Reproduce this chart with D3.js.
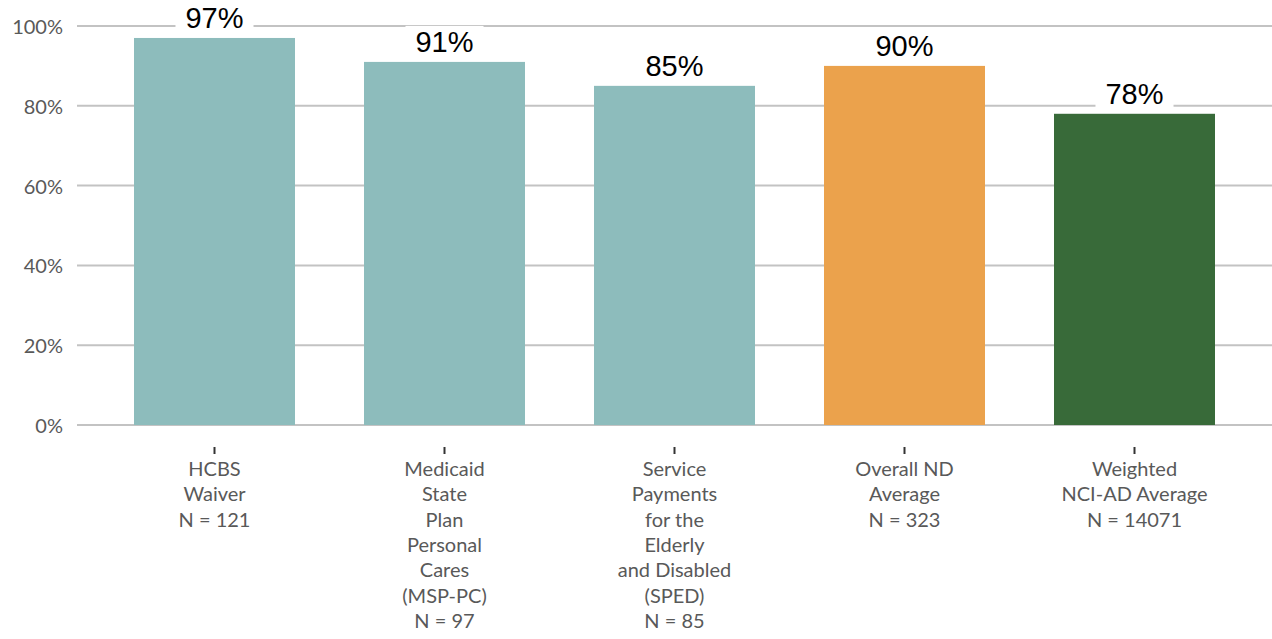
<!DOCTYPE html>
<html>
<head>
<meta charset="utf-8">
<script src="https://cdn.jsdelivr.net/npm/d3@7"></script>
<style>
  body { margin: 0; background: #fff; }
  svg { display: block; }
</style>
</head>
<body>
<svg id="chart"></svg>
<script>
const width = 1272;
const height = 639;

// data
const categories = [
  ['HCBS', 'Waiver'],
  ['Medicaid', 'State', 'Plan', 'Personal', 'Cares', '(MSP-PC)'],
  ['Service', 'Payments', 'for the', 'Elderly', 'and Disabled', '(SPED)'],
  ['Overall ND', 'Average'],
  ['Weighted', 'NCI-AD Average']
];
const sampleSizes = [121, 97, 85, 323, 14071];
const percents = [97, 91, 85, 90, 78];
const groups = ['program', 'program', 'program', 'state', 'national'];
const yTicks = [0, 20, 40, 60, 80, 100];

const colour = d3.scaleOrdinal()
    .domain(['program', 'state', 'national'])
    .range(['#8dbcbc', '#eba24c', '#386a39']);

const rows = categories.map((c, i) => ({
  idx: i, lines: c.concat(['N = ' + sampleSizes[i]]), value: percents[i], group: groups[i]
}));

const svg = d3.select('#chart')
    .attr('width', width)
    .attr('height', height);

const x = d3.scaleBand()
    .domain(rows.map(d => d.idx))
    .range([99.5, 1249.5])
    .paddingInner(0.3)
    .paddingOuter(0.15);
const y = d3.scaleLinear()
    .domain([0, 100])
    .range([425, 26]);

// gridlines
svg.append('g')
  .selectAll('line')
  .data(yTicks)
  .join('line')
    .attr('x1', 77)
    .attr('x2', width)
    .attr('y1', d => y(d))
    .attr('y2', d => y(d))
    .attr('stroke', '#c3c3c3')
    .attr('stroke-width', 2);

// y labels
svg.append('g')
  .selectAll('text')
  .data(yTicks)
  .join('text')
    .attr('x', 63)
    .attr('y', d => y(d) + 8)
    .attr('text-anchor', 'end')
    .attr('font-family', 'Lato, sans-serif')
    .attr('font-size', 20)
    .attr('fill', '#595959')
    .text(d => d + '%');

// bars
svg.append('g')
  .selectAll('rect')
  .data(rows)
  .join('rect')
    .attr('x', d => x(d.idx))
    .attr('width', x.bandwidth())
    .attr('y', d => y(d.value))
    .attr('height', d => y(0) - y(d.value))
    .attr('fill', d => colour(d.group));

// small tick marks under the axis
svg.append('g')
  .selectAll('line')
  .data(rows)
  .join('line')
    .attr('x1', d => x(d.idx) + x.bandwidth() / 2)
    .attr('x2', d => x(d.idx) + x.bandwidth() / 2)
    .attr('y1', 447)
    .attr('y2', 454)
    .attr('stroke', '#333')
    .attr('stroke-width', 2);

// category labels
const cat = svg.append('g')
  .selectAll('text')
  .data(rows)
  .join('text')
    .attr('x', d => x(d.idx) + x.bandwidth() / 2)
    .attr('y', 476)
    .attr('text-anchor', 'middle')
    .attr('font-family', 'Lato, sans-serif')
    .attr('font-size', 20)
    .attr('fill', '#595959');
cat.selectAll('tspan')
  .data(d => d.lines.map(l => ({ l, cx: x(d.idx) + x.bandwidth() / 2 })))
  .join('tspan')
    .attr('x', d => d.cx)
    .attr('dy', (d, i) => i ? 25.3 : 0)
    .text(d => d.l);

// value labels with white boxes that cut the gridlines
const lab = svg.append('g')
  .selectAll('g')
  .data(rows)
  .join('g');
lab.append('text')
    .attr('x', d => x(d.idx) + x.bandwidth() / 2)
    .attr('y', d => y(d.value) - 10)
    .attr('text-anchor', 'middle')
    .attr('font-family', 'Liberation Sans, Arial, sans-serif')
    .attr('font-size', 29)
    .attr('fill', '#000')
    .text(d => d.value + '%');
lab.each(function () {
  const g = d3.select(this);
  const b = g.select('text').node().getBBox();
  g.insert('rect', 'text')
      .attr('x', b.x - 10)
      .attr('y', b.y)
      .attr('width', b.width + 20)
      .attr('height', b.height + 2)
      .attr('fill', '#fff');
});
</script>
</body>
</html>
